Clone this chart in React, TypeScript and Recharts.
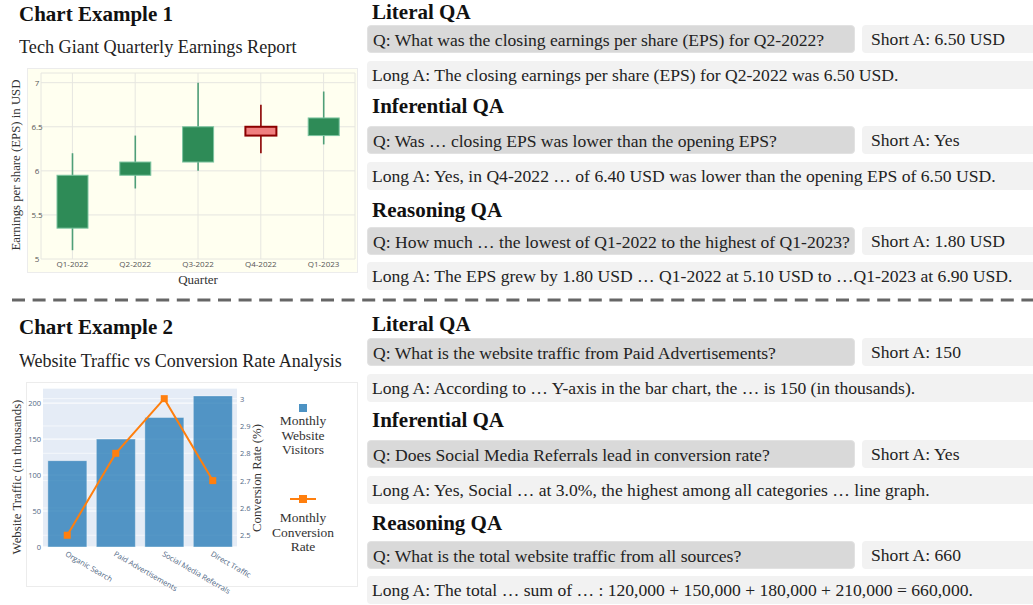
import React from 'react';
import { ComposedChart, Bar, Line, XAxis, YAxis, CartesianGrid, Legend, Label } from 'recharts';

// ---------- Chart 1 data ----------
const quarters = ['Q1-2022', 'Q2-2022', 'Q3-2022', 'Q4-2022', 'Q1-2023'];
const epsOpen = [5.35, 5.95, 6.1, 6.5, 6.4];
const epsClose = [5.95, 6.1, 6.5, 6.4, 6.6];
const epsHigh = [6.2, 6.4, 7.0, 6.75, 6.9];
const epsLow = [5.1, 5.8, 6.0, 6.2, 6.3];
const epsTicks = [5, 5.5, 6, 6.5, 7];

// ---------- Chart 2 data ----------
const channels = ['Organic Search', 'Paid Advertisements', 'Social Media Referrals', 'Direct Traffic'];
const visitors = [120, 150, 180, 210];
const conversion = [2.5, 2.8, 3.0, 2.7];
const visitorTicks = [0, 50, 100, 150, 200];
const conversionTicks = [2.5, 2.6, 2.7, 2.8, 2.9, 3];

// ---------- QA text ----------
const qaHeaders1 = ['Literal QA', 'Inferential QA', 'Reasoning QA'];
const qaQuestions1 = [
  'Q: What was the closing earnings per share (EPS) for Q2-2022?',
  'Q: Was … closing EPS was lower than the opening EPS?',
  'Q: How much … the lowest of Q1-2022 to the highest of Q1-2023?',
];
const qaShort1 = ['Short A: 6.50 USD', 'Short A: Yes', 'Short A: 1.80 USD'];
const qaLong1 = [
  'Long A: The closing earnings per share (EPS) for Q2-2022 was 6.50 USD.',
  'Long A: Yes, in Q4-2022 … of 6.40 USD was lower than the opening EPS of 6.50 USD.',
  'Long A: The EPS grew by 1.80 USD … Q1-2022 at 5.10 USD to …Q1-2023 at 6.90 USD.',
];
const qaHeaders2 = ['Literal QA', 'Inferential QA', 'Reasoning QA'];
const qaQuestions2 = [
  'Q: What is the website traffic from Paid Advertisements?',
  'Q: Does Social Media Referrals lead in conversion rate?',
  'Q: What is the total website traffic from all sources?',
];
const qaShort2 = ['Short A: 150', 'Short A: Yes', 'Short A: 660'];
const qaLong2 = [
  'Long A: According to … Y-axis in the bar chart, the … is 150 (in thousands).',
  'Long A: Yes, Social … at 3.0%, the highest among all categories … line graph.',
  'Long A: The total … sum of … : 120,000 + 150,000 + 180,000 + 210,000 = 660,000.',
];

const candleData = quarters.map((q, i) => ({
  quarter: q,
  open: epsOpen[i],
  close: epsClose[i],
  high: epsHigh[i],
  low: epsLow[i],
}));

const trafficData = channels.map((c, i) => ({
  channel: c,
  visitors: visitors[i],
  conversion: conversion[i],
}));

const SERIF = "'Liberation Serif', 'DejaVu Serif', serif";
const SANS = "'Open Sans', 'DejaVu Sans', sans-serif";

const Candle = (props: any) => {
  const { x, y, width, height, payload } = props;
  const lo = Math.min(payload.open, payload.close);
  const hi = Math.max(payload.open, payload.close);
  const h = Math.abs(height);
  const top = height < 0 ? y + height : y;
  const ppu = h / (hi - lo);
  const up = payload.close >= payload.open;
  const cx = x + width / 2;
  const yHigh = top - (payload.high - hi) * ppu;
  const yLow = top + h + (lo - payload.low) * ppu;
  return (
    <g>
      <line x1={cx} x2={cx} y1={yHigh} y2={yLow} stroke={up ? '#4f9f78' : '#8b0000'} strokeWidth={1.6} />
      <rect
        x={x}
        y={top}
        width={width}
        height={h}
        fill={up ? '#2e8b57' : '#f08080'}
        stroke={up ? '#7cc4a0' : '#8b0000'}
        strokeWidth={up ? 1 : 2}
      />
    </g>
  );
};

const EpsXTick = (props: any) => {
  const { x, y, payload } = props;
  return (
    <text x={x} y={y + 8} textAnchor="middle" fontSize={8} fontFamily={SANS} fill="#555">
      {payload.value}
    </text>
  );
};

const EpsYTick = (props: any) => {
  const { x, y, payload } = props;
  return (
    <text x={x - 4} y={y + 3} textAnchor="middle" fontSize={8} fontFamily={SANS} fill="#555">
      {payload.value}
    </text>
  );
};

const TrafficXTick = (props: any) => {
  const { x, y, payload } = props;
  return (
    <text
      x={x}
      y={y + 4}
      dy="0.7em"
      textAnchor="start"
      fontSize={7.5}
      fontFamily={SANS}
      fill="#506784"
      transform={`rotate(30, ${x}, ${y + 4})`}
    >
      {payload.value}
    </text>
  );
};

const LeftTick = (props: any) => {
  const { x, y, payload } = props;
  return (
    <text x={x - 2} y={y + 3} textAnchor="end" fontSize={7.5} fontFamily={SANS} fill="#506784">
      {payload.value}
    </text>
  );
};

const RightTick = (props: any) => {
  const { x, y, payload } = props;
  return (
    <text x={x + 3} y={y + 3} textAnchor="start" fontSize={7.5} fontFamily={SANS} fill="#506784">
      {payload.value}
    </text>
  );
};

const SquareDot = (props: any) => {
  const { cx, cy } = props;
  if (cx == null || cy == null) return null;
  return <rect x={cx - 3.5} y={cy - 3.5} width={7} height={7} fill="#ff7f0e" />;
};

const TrafficLegend = (props: any) => {
  const payload = props.payload || [];
  const bar = payload.find((p: any) => p.dataKey === 'visitors');
  const line = payload.find((p: any) => p.dataKey === 'conversion');
  const txt: React.CSSProperties = {
    fontFamily: SERIF,
    fontSize: 13.5,
    color: '#333',
    lineHeight: '14.5px',
    textAlign: 'center',
  };
  return (
    <div style={{ position: 'relative', width: 80, height: 170 }}>
      <div style={{ position: 'absolute', left: 36, top: 0, width: 8, height: 8, background: bar ? bar.color : '#1f77b4', opacity: 0.8 }} />
      <div style={{ position: 'absolute', left: 0, top: 10, width: 80, ...txt }}>
        Monthly<br />Website<br />Visitors
      </div>
      <svg style={{ position: 'absolute', left: 25, top: 89 }} width={30} height={12}>
        <line x1={2} x2={28} y1={6} y2={6} stroke={line ? line.color : '#ff7f0e'} strokeWidth={2} />
        <rect x={11} y={2} width={8} height={8} fill={line ? line.color : '#ff7f0e'} />
      </svg>
      <div style={{ position: 'absolute', left: 0, top: 107, width: 80, ...txt }}>
        Monthly<br />Conversion<br />Rate
      </div>
    </div>
  );
};

const headerStyle: React.CSSProperties = {
  position: 'absolute',
  fontFamily: SERIF,
  fontWeight: 700,
  fontSize: 21,
  color: '#111',
  lineHeight: '24px',
  whiteSpace: 'nowrap',
};

const textStyle: React.CSSProperties = {
  position: 'absolute',
  fontFamily: SERIF,
  fontSize: 17.6,
  color: '#222',
  lineHeight: '28px',
  whiteSpace: 'nowrap',
  overflow: 'hidden',
  boxSizing: 'border-box',
  borderRadius: 4,
};

const QABlock = ({
  headers,
  questions,
  shorts,
  longs,
  headerY,
  qY,
  longY,
}: {
  headers: string[];
  questions: string[];
  shorts: string[];
  longs: string[];
  headerY: number[];
  qY: number[];
  longY: number[];
}) => (
  <>
    {headers.map((h, i) => (
      <React.Fragment key={h + i}>
        <div style={{ ...headerStyle, left: 372, top: headerY[i] - 12 }}>{h}</div>
        <div
          style={{
            ...textStyle,
            left: 367,
            top: qY[i] - 14,
            width: 488,
            height: 28,
            background: '#d9d9d9',
            border: '1px solid #e2e2e2',
            paddingLeft: 5,
          }}
        >
          {questions[i]}
        </div>
        <div
          style={{
            ...textStyle,
            left: 862,
            top: qY[i] - 14,
            width: 180,
            height: 28,
            background: '#f2f2f2',
            paddingLeft: 9,
          }}
        >
          {shorts[i]}
        </div>
        <div
          style={{
            ...textStyle,
            left: 367,
            top: longY[i] - 14,
            width: 680,
            height: 28,
            background: '#f2f2f2',
            paddingLeft: 5,
          }}
        >
          {longs[i]}
        </div>
      </React.Fragment>
    ))}
  </>
);

export default function App() {
  return (
    <div
      style={{
        position: 'absolute',
        left: 0,
        top: 0,
        width: 1033,
        height: 605,
        overflow: 'hidden',
        background: '#fff',
      }}
    >
      {/* ----- Left titles ----- */}
      <div style={{ ...headerStyle, left: 19, top: 14 - 12 }}>Chart Example 1</div>
      <div style={{ ...textStyle, fontSize: 18.2, left: 19, top: 47 - 14, borderRadius: 0 }}>Tech Giant Quarterly Earnings Report</div>
      <div style={{ ...headerStyle, left: 19, top: 327 - 12 }}>Chart Example 2</div>
      <div style={{ ...textStyle, fontSize: 18, left: 19, top: 361 - 14, borderRadius: 0 }}>Website Traffic vs Conversion Rate Analysis</div>

      {/* ----- Chart 1 ----- */}
      <div
        style={{
          position: 'absolute',
          left: 27,
          top: 68,
          width: 331,
          height: 205,
          background: '#fffff0',
          border: '1px solid #ececec',
          boxSizing: 'border-box',
        }}
      />
      <div style={{ position: 'absolute', left: 0, top: 60 }}>
        <ComposedChart
          width={360}
          height={230}
          data={candleData}
          margin={{ top: 13, right: 5, bottom: 0, left: 0 }}
        >
          <CartesianGrid stroke="#e6e6e0" strokeWidth={1} />
          <XAxis
            dataKey="quarter"
            height={31}
            axisLine={false}
            tickLine={false}
            tickSize={0}
            tickMargin={0}
            tick={<EpsXTick />}
            interval={0}
          >
            <Label
              content={() => (
                <text x={198} y={224} textAnchor="middle" fontSize={13} fontFamily={SERIF} fill="#333">
                  Quarter
                </text>
              )}
            />
          </XAxis>
          <YAxis
            width={41}
            domain={[5, 7.11]}
            ticks={epsTicks}
            allowDataOverflow
            axisLine={false}
            tickLine={false}
            tickSize={0}
            tickMargin={0}
            tick={<EpsYTick />}
          >
            <Label
              content={() => (
                <text
                  x={16}
                  y={105}
                  textAnchor="middle"
                  dominantBaseline="central"
                  fontSize={12.8}
                  fontFamily={SERIF}
                  fill="#333"
                  transform="rotate(-90, 16, 105)"
                >
                  Earnings per share (EPS) in USD
                </text>
              )}
            />
          </YAxis>
          <Bar
            dataKey={(d: any) => [Math.min(d.open, d.close), Math.max(d.open, d.close)]}
            name="EPS"
            barSize={31}
            shape={<Candle />}
            isAnimationActive={false}
          />
        </ComposedChart>
      </div>

      {/* ----- Dashed separator ----- */}
      <svg style={{ position: 'absolute', left: 0, top: 294 }} width={1033} height={12}>
        <line x1={12} x2={1033} y1={6} y2={6} stroke="#666" strokeWidth={3} strokeDasharray="13 7.6" />
      </svg>

      {/* ----- Chart 2 ----- */}
      <div
        style={{
          position: 'absolute',
          left: 26,
          top: 382,
          width: 332,
          height: 205,
          background: '#fff',
          border: '1px solid #ececec',
          boxSizing: 'border-box',
        }}
      />
      <div style={{ position: 'absolute', left: 0, top: 375 }}>
        <ComposedChart
          width={360}
          height={220}
          data={trafficData}
          margin={{ top: 13, right: 0, bottom: 0, left: 0 }}
          barCategoryGap="10%"
        >
          <CartesianGrid yAxisId="left" vertical={false} stroke="#ffffff" fill="#e5ecf6" fillOpacity={1} />
          <CartesianGrid yAxisId="right" vertical={false} stroke="#ffffff" strokeOpacity={0.6} />
          <XAxis
            dataKey="channel"
            height={48}
            axisLine={false}
            tickLine={false}
            tickSize={0}
            tickMargin={0}
            interval={0}
            tick={<TrafficXTick />}
          />
          <YAxis
            yAxisId="left"
            width={43}
            domain={[0, 221]}
            ticks={visitorTicks}
            allowDataOverflow
            axisLine={false}
            tickLine={false}
            tickSize={0}
            tickMargin={0}
            tick={<LeftTick />}
          >
            <Label
              content={() => (
                <text
                  x={17}
                  y={102}
                  textAnchor="middle"
                  dominantBaseline="central"
                  fontSize={12.8}
                  fontFamily={SERIF}
                  fill="#333"
                  transform="rotate(-90, 17, 102)"
                >
                  Website Traffic (in thousands)
                </text>
              )}
            />
          </YAxis>
          <YAxis
            yAxisId="right"
            orientation="right"
            width={123}
            domain={[2.457, 3.039]}
            ticks={conversionTicks}
            allowDataOverflow
            axisLine={false}
            tickLine={false}
            tickSize={0}
            tickMargin={0}
            tick={<RightTick />}
          >
            <Label
              content={() => (
                <text
                  x={257}
                  y={103}
                  textAnchor="middle"
                  dominantBaseline="central"
                  fontSize={12.8}
                  fontFamily={SERIF}
                  fill="#333"
                  transform="rotate(-90, 257, 103)"
                >
                  Conversion Rate (%)
                </text>
              )}
            />
          </YAxis>
          <Legend
            layout="horizontal"
            align="center"
            verticalAlign="middle"
            content={<TrafficLegend />}
            wrapperStyle={{ position: 'absolute', left: 263, top: 29, width: 80, height: 170 }}
          />
          <Bar
            yAxisId="left"
            dataKey="visitors"
            name="Monthly Website Visitors"
            fill="#1f77b4"
            fillOpacity={0.75}
            stroke="#ffffff"
            strokeOpacity={0.35}
            strokeWidth={1}
            isAnimationActive={false}
          />
          <Line
            yAxisId="right"
            dataKey="conversion"
            name="Monthly Conversion Rate"
            stroke="#ff7f0e"
            strokeWidth={2}
            dot={<SquareDot />}
            activeDot={false}
            isAnimationActive={false}
          />
        </ComposedChart>
      </div>

      {/* ----- QA blocks ----- */}
      <QABlock
        headers={qaHeaders1}
        questions={qaQuestions1}
        shorts={qaShort1}
        longs={qaLong1}
        headerY={[12, 106, 210]}
        qY={[39, 140, 241]}
        longY={[75, 176, 276]}
      />
      <QABlock
        headers={qaHeaders2}
        questions={qaQuestions2}
        shorts={qaShort2}
        longs={qaLong2}
        headerY={[324, 420, 523]}
        qY={[352, 454, 555]}
        longY={[388, 490, 590]}
      />
    </div>
  );
}
